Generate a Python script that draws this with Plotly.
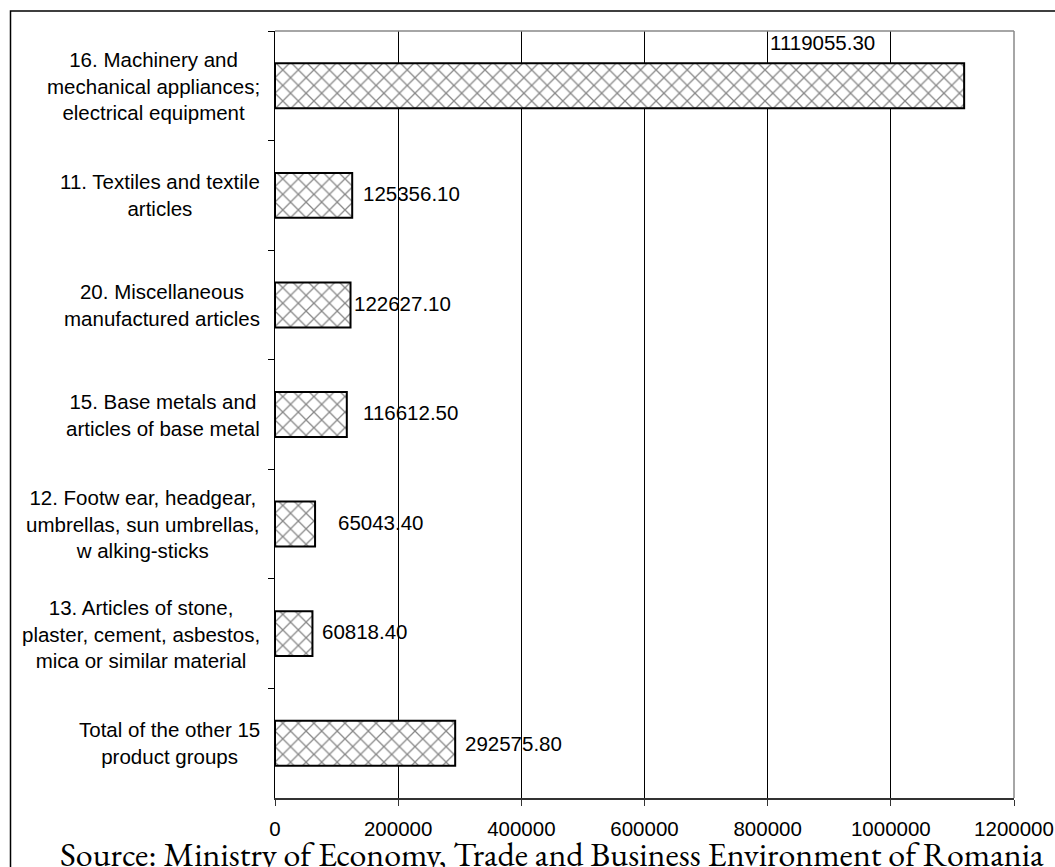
import plotly.graph_objects as go

# data
categories = [
    "16. Machinery and<br>mechanical appliances;<br>electrical equipment",
    "11. Textiles and textile<br>articles",
    "20. Miscellaneous<br>manufactured articles",
    "15. Base metals and<br>articles of base metal",
    "12. Footw ear, headgear,<br>umbrellas, sun umbrellas,<br>w alking-sticks",
    "13. Articles of stone,<br>plaster, cement, asbestos,<br>mica or similar material",
    "Total of the other 15<br>product groups",
]
values = [1119055.30, 125356.10, 122627.10, 116612.50, 65043.40, 60818.40, 292575.80]
x_ticks = [0, 200000, 400000, 600000, 800000, 1000000, 1200000]
source_note = "Source: Ministry of Economy, Trade and Business Environment of Romania"

# label placement tweaks (pixel offsets from the bar end), mimicking the original
label_shift = [(-196, 43), (9, 2), (1, 1), (14, 2), (21, 2), (8, 2), (8, 0)]

W, H = 1055, 867
PLOT_L, PLOT_R, PLOT_T, PLOT_B = 275, 1014, 31, 798
L, R, T, B = PLOT_L, W - PLOT_R, PLOT_T, H - PLOT_B
SANS = "Arial, Liberation Sans, sans-serif"
SERIF = "Garamond, EB Garamond, DejaVu Serif, serif"
FS = 20.5


def px_x(p):
    return (p - PLOT_L) / (PLOT_R - PLOT_L)


def px_y(p):
    return (PLOT_B - p) / (PLOT_B - PLOT_T)


fig = go.Figure()
fig.add_trace(
    go.Bar(
        x=values,
        y=categories,
        orientation="h",
        marker=dict(
            color="white",
            line=dict(color="black", width=2),
            pattern=dict(shape="x", size=11, solidity=0.22,
                         fgcolor="#111", bgcolor="white"),
        ),
        hoverinfo="skip",
        showlegend=False,
    )
)

annotations = []
for cat, val, (dx, dy) in zip(categories, values, label_shift):
    annotations.append(dict(
        x=val, y=cat, xref="x", yref="y",
        text=f"{val:.2f}", showarrow=False,
        xanchor="left", yanchor="middle",
        xshift=dx, yshift=dy,
        font=dict(family=SANS, size=FS, color="black"),
    ))
    # category labels: block right-aligned, lines centred
    annotations.append(dict(
        x=px_x(262), y=cat, xref="paper", yref="y",
        text=cat, showarrow=False,
        xanchor="right", yanchor="middle", align="center",
        font=dict(family=SANS, size=FS, color="black"),
    ))

annotations.append(dict(
    x=px_x(58), y=px_y(854), xref="paper", yref="paper",
    text=source_note, showarrow=False,
    xanchor="left", yanchor="middle",
    font=dict(family=SERIF, size=34, color="black"),
))

shapes = [
    # outer frame (runs off the right and bottom of the picture)
    dict(type="rect", xref="paper", yref="paper",
         x0=px_x(10.5), x1=px_x(W + 20), y0=px_y(11), y1=px_y(H + 20),
         line=dict(color="black", width=1.5), fillcolor="rgba(0,0,0,0)",
         layer="below"),
    # plot area top and right edges
    dict(type="line", xref="x domain", yref="y domain",
         x0=0, x1=1, y0=1, y1=1, line=dict(color="#888", width=1.5)),
    dict(type="line", xref="x domain", yref="y domain",
         x0=1, x1=1, y0=0, y1=1, line=dict(color="#888", width=1.5)),
]

fig.update_layout(
    width=W, height=H,
    margin=dict(l=L, r=R, t=T, b=B),
    paper_bgcolor="white", plot_bgcolor="white",
    bargap=0.59,
    annotations=annotations,
    shapes=shapes,
    font=dict(family=SANS, size=FS, color="black"),
)
fig.update_xaxes(
    range=[0, 1200000],
    tickvals=x_ticks,
    ticktext=[str(v) for v in x_ticks],
    showgrid=True, gridcolor="black", gridwidth=1,
    showline=True, linecolor="#333", linewidth=2,
    ticks="outside", ticklen=6, tickcolor="#333",
    ticklabelstandoff=5,
    zeroline=False,
    automargin=False,
    tickfont=dict(family=SANS, size=FS, color="black"),
)
fig.update_yaxes(
    autorange="reversed",
    showticklabels=False,
    showline=True, linecolor="black", linewidth=1,
    ticks="outside", ticklen=6, tickcolor="black",
    tickson="boundaries",
    showgrid=False,
    automargin=False,
)

# drop the default 8px body margin so the figure fills the window exactly
fig.write_html(
    "out.html",
    config={"displayModeBar": False},
    post_script="document.body.style.margin='0';document.body.style.overflow='hidden';",
)
